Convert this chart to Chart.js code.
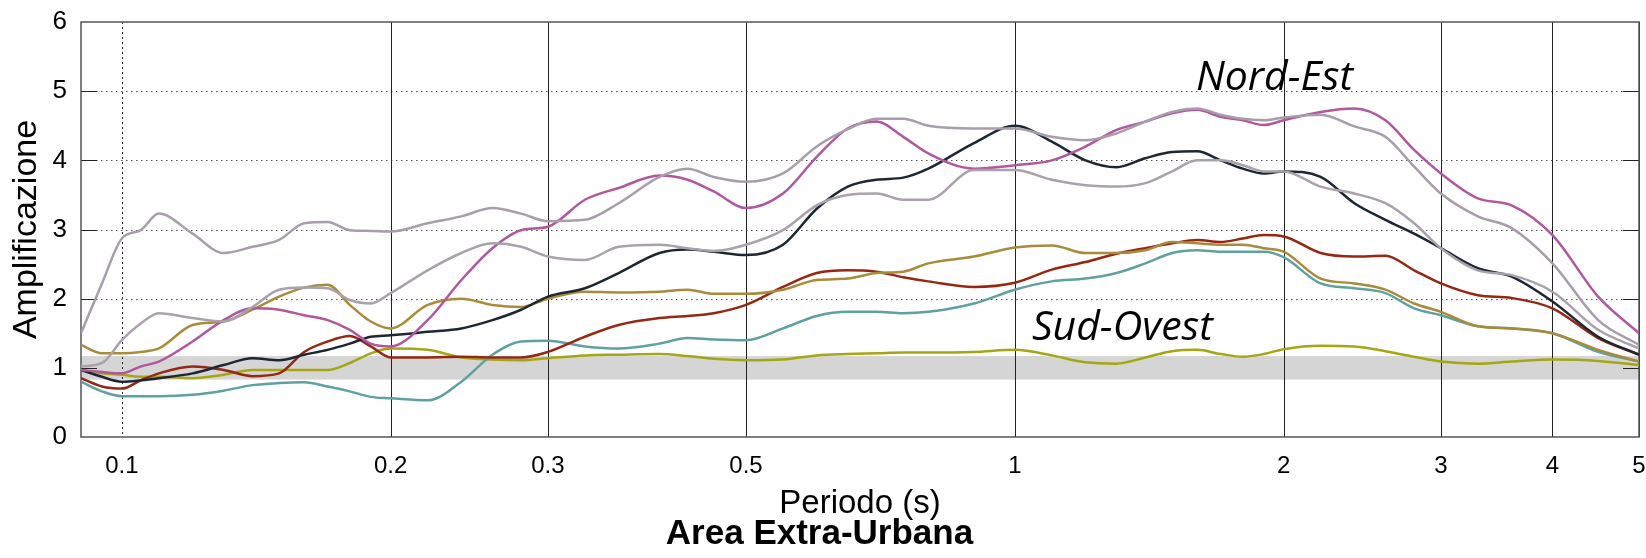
<!DOCTYPE html>
<html>
<head>
<meta charset="utf-8">
<script src="https://cdn.jsdelivr.net/npm/chart.js@4.4.0/dist/chart.umd.min.js"></script>
<style>
  html, body { margin: 0; padding: 0; background: #fff; }
  #wrap { width: 1646px; height: 558px; }
</style>
</head>
<body>
<div id="wrap"><canvas id="chart" width="1646" height="558"></canvas></div>
<script>
const periods = [0.09, 0.095, 0.1, 0.105, 0.11, 0.12, 0.13, 0.14, 0.15, 0.16, 0.17, 0.18, 0.19, 0.2,
  0.22, 0.24, 0.26, 0.28, 0.3, 0.33, 0.36, 0.4, 0.43, 0.46, 0.5, 0.55, 0.6, 0.65, 0.7, 0.75, 0.8, 0.9,
  1.0, 1.1, 1.2, 1.3, 1.4, 1.5, 1.6, 1.7, 1.8, 1.9, 2.0, 2.2, 2.4, 2.6, 2.8, 3.0, 3.3, 3.6, 4.0, 4.5, 5.0];

const grayA = [1.5, 2.22, 2.87, 2.99, 3.23, 2.94, 2.66, 2.75, 2.85, 3.09, 3.11, 2.99, 2.98, 2.97,
  3.09, 3.19, 3.31, 3.23, 3.12, 3.14, 3.38, 3.76, 3.88, 3.76, 3.69, 3.81, 4.2, 4.45, 4.6, 4.6, 4.5, 4.46,
  4.46, 4.34, 4.29, 4.39, 4.56, 4.7, 4.75, 4.66, 4.6, 4.58, 4.62, 4.66, 4.49, 4.34, 3.91, 3.52, 3.19, 3.02, 2.51, 1.69, 1.33];
const grayB = [1.02, 1.07, 1.4, 1.64, 1.79, 1.72, 1.67, 1.88, 2.13, 2.16, 2.15, 1.98, 1.93, 2.08,
  2.41, 2.66, 2.8, 2.75, 2.61, 2.56, 2.75, 2.78, 2.73, 2.69, 2.78, 2.99, 3.35, 3.5, 3.52, 3.43, 3.43, 3.86,
  3.86, 3.72, 3.64, 3.62, 3.67, 3.84, 4.0, 4.0, 3.93, 3.84, 3.84, 3.62, 3.52, 3.38, 3.09, 2.73, 2.41, 2.34, 2.1, 1.55, 1.28];
const pink = [0.97, 0.94, 0.92, 1.02, 1.09, 1.38, 1.69, 1.86, 1.84, 1.76, 1.69, 1.55, 1.35, 1.31,
  1.69, 2.27, 2.73, 2.99, 3.04, 3.43, 3.6, 3.78, 3.72, 3.55, 3.31, 3.52, 4.05, 4.46, 4.56, 4.34, 4.1, 3.88,
  3.93, 4.0, 4.2, 4.44, 4.56, 4.68, 4.73, 4.63, 4.58, 4.51, 4.58, 4.7, 4.75, 4.58, 4.15, 3.81, 3.45, 3.35, 2.92, 2.03, 1.5];
const black = [0.97, 0.87, 0.8, 0.82, 0.85, 0.92, 1.04, 1.14, 1.11, 1.19, 1.26, 1.35, 1.45, 1.47,
  1.52, 1.57, 1.69, 1.84, 2.03, 2.15, 2.37, 2.66, 2.71, 2.68, 2.63, 2.78, 3.3, 3.62, 3.72, 3.75, 3.88, 4.25,
  4.5, 4.27, 4.0, 3.9, 4.03, 4.12, 4.13, 4.0, 3.88, 3.81, 3.84, 3.76, 3.38, 3.14, 2.94, 2.73, 2.44, 2.32, 1.96, 1.45, 1.19];
const gold = [1.33, 1.21, 1.21, 1.23, 1.28, 1.62, 1.67, 1.84, 2.03, 2.16, 2.2, 1.91, 1.67, 1.57,
  1.91, 2.0, 1.91, 1.88, 2.0, 2.1, 2.09, 2.1, 2.13, 2.07, 2.07, 2.13, 2.27, 2.29, 2.37, 2.39, 2.51, 2.61,
  2.74, 2.77, 2.66, 2.66, 2.7, 2.82, 2.8, 2.78, 2.78, 2.73, 2.68, 2.29, 2.22, 2.13, 1.93, 1.81, 1.6, 1.57, 1.5, 1.26, 1.09];
const red = [0.85, 0.73, 0.7, 0.82, 0.92, 1.02, 0.97, 0.88, 0.92, 1.23, 1.38, 1.46, 1.31, 1.15,
  1.15, 1.16, 1.15, 1.15, 1.23, 1.45, 1.62, 1.72, 1.75, 1.79, 1.91, 2.17, 2.37, 2.41, 2.39, 2.31, 2.25, 2.17,
  2.23, 2.42, 2.53, 2.65, 2.73, 2.8, 2.85, 2.82, 2.87, 2.92, 2.9, 2.66, 2.61, 2.62, 2.41, 2.22, 2.05, 2.01, 1.86, 1.43, 1.19];
const teal = [0.8, 0.66, 0.59, 0.59, 0.59, 0.61, 0.67, 0.75, 0.78, 0.79, 0.73, 0.66, 0.58, 0.56,
  0.53, 0.8, 1.19, 1.38, 1.39, 1.31, 1.28, 1.35, 1.43, 1.41, 1.4, 1.57, 1.75, 1.81, 1.81, 1.79, 1.81, 1.93,
  2.13, 2.25, 2.29, 2.37, 2.51, 2.66, 2.7, 2.68, 2.68, 2.68, 2.6, 2.22, 2.15, 2.08, 1.86, 1.76, 1.6, 1.57, 1.5, 1.23, 1.09];
const olive = [0.97, 0.92, 0.9, 0.87, 0.87, 0.85, 0.9, 0.97, 0.97, 0.97, 0.97, 1.07, 1.21, 1.28,
  1.26, 1.15, 1.12, 1.11, 1.14, 1.18, 1.19, 1.2, 1.17, 1.13, 1.11, 1.12, 1.18, 1.2, 1.21, 1.22, 1.22, 1.23,
  1.26, 1.18, 1.08, 1.06, 1.15, 1.24, 1.26, 1.2, 1.16, 1.2, 1.27, 1.32, 1.31, 1.24, 1.16, 1.09, 1.06, 1.09, 1.12, 1.1, 1.04];

const seriesData = [grayA, grayB, pink, black, gold, red, teal, olive];
const seriesColors = ['#a99dab', '#a9a1ab', '#b1579f', '#1d2733', '#a98b3a', '#952812', '#5fa0a1', '#a6a614'];

const xTicks = [0.1, 0.2, 0.3, 0.5, 1, 2, 3, 4, 5];
const dottedX = [0.1];
const yTicks = [0, 1, 2, 3, 4, 5, 6];
const band = [0.83, 1.17];

const noteTexts = ['Nord-Est', 'Sud-Ovest'];
const noteX = [1.595, 1.045];
const noteY = [5.02, 1.40];

const fontFamily = '"Liberation Sans", Arial, sans-serif';

const frame = {
  id: 'frame',
  beforeDatasetsDraw(chart) {
    const {ctx, chartArea: a, scales: {x, y}} = chart;
    ctx.save();
    ctx.lineWidth = 1;
    // dotted horizontal grid
    ctx.strokeStyle = '#555';
    ctx.setLineDash([1.5, 3.5]);
    yTicks.slice(1, -1).forEach(v => {
      const py = Math.round(y.getPixelForValue(v)) + 0.5;
      ctx.beginPath(); ctx.moveTo(a.left, py); ctx.lineTo(a.right, py); ctx.stroke();
    });
    // grey reference band
    ctx.setLineDash([]);
    ctx.fillStyle = '#d5d5d5';
    const bt = y.getPixelForValue(band[1]), bb = y.getPixelForValue(band[0]);
    ctx.fillRect(a.left, bt, a.right - a.left, bb - bt);
    // vertical grid
    ctx.strokeStyle = '#222';
    xTicks.forEach(v => {
      const px = Math.round(x.getPixelForValue(v)) + 0.5;
      ctx.setLineDash(dottedX.includes(v) ? [2, 3] : []);
      ctx.beginPath(); ctx.moveTo(px, a.top); ctx.lineTo(px, a.bottom); ctx.stroke();
    });
    ctx.setLineDash([]);
    // small ticks inside left and right edges
    yTicks.slice(1, -1).forEach(v => {
      const py = Math.round(y.getPixelForValue(v)) + 0.5;
      ctx.beginPath();
      ctx.moveTo(a.left, py); ctx.lineTo(a.left + 16, py);
      ctx.moveTo(a.right, py); ctx.lineTo(a.right - 16, py);
      ctx.stroke();
    });
    // box
    ctx.strokeStyle = '#555';
    ctx.lineWidth = 1.5;
    ctx.strokeRect(a.left, a.top, a.right - a.left, a.bottom - a.top);
    ctx.restore();
  },
  afterDatasetsDraw(chart) {
    const {ctx, scales: {x, y}} = chart;
    ctx.save();
    ctx.fillStyle = '#000';
    ctx.font = 'italic 41px "Open Sans"';
    ctx.textAlign = 'left';
    ctx.textBaseline = 'alphabetic';
    noteTexts.forEach((t, i) => {
      ctx.fillText(t, x.getPixelForValue(noteX[i]), y.getPixelForValue(noteY[i]));
    });
    ctx.restore();
  }
};

new Chart(document.getElementById('chart'), {
  type: 'line',
  data: {
    datasets: seriesData.map((vals, i) => ({
      data: periods.map((p, j) => ({x: p, y: vals[j]})),
      borderColor: seriesColors[i],
      borderWidth: 2.5,
      pointRadius: 0,
      fill: false,
      cubicInterpolationMode: 'monotone'
    }))
  },
  options: {
    responsive: false,
    devicePixelRatio: 1,
    animation: false,
    layout: { padding: { left: 0, right: 7, top: 22, bottom: 0 } },
    plugins: {
      legend: { display: false },
      tooltip: { enabled: false },
      title: {
        display: true,
        position: 'bottom',
        text: 'Area Extra-Urbana',
        color: '#000',
        font: { family: fontFamily, size: 35, weight: 'bold', lineHeight: 1 },
        padding: { top: 0, bottom: 6 }
      }
    },
    scales: {
      x: {
        type: 'logarithmic',
        min: 0.09,
        max: 5,
        grid: { display: false, drawTicks: false },
        border: { display: false },
        afterBuildTicks: (scale) => { scale.ticks = xTicks.map(v => ({value: v})); },
        afterFit: (scale) => {
          scale.height = 80;
          scale.paddingLeft = 0;
          scale.paddingRight = 0;
        },
        ticks: {
          autoSkip: false,
          maxRotation: 0,
          padding: 15,
          color: '#000',
          font: { family: fontFamily, size: 24 },
          callback: (v) => String(v)
        },
        title: {
          display: true,
          text: 'Periodo (s)',
          color: '#000',
          font: { family: fontFamily, size: 33, lineHeight: 0.78 },
          padding: { top: 0, bottom: 0 }
        }
      },
      y: {
        min: 0,
        max: 6,
        grid: { display: false, drawTicks: false },
        border: { display: false },
        afterFit: (scale) => {
          scale.width = 81;
          scale.paddingTop = 0;
          scale.paddingBottom = 0;
        },
        ticks: {
          stepSize: 1,
          padding: 14,
          color: '#000',
          font: { family: fontFamily, size: 26 }
        },
        title: {
          display: true,
          text: 'Amplificazione',
          color: '#000',
          font: { family: fontFamily, size: 34 },
          padding: { top: 6, bottom: 0 }
        }
      }
    }
  },
  plugins: [frame]
});
</script>
</body>
</html>
